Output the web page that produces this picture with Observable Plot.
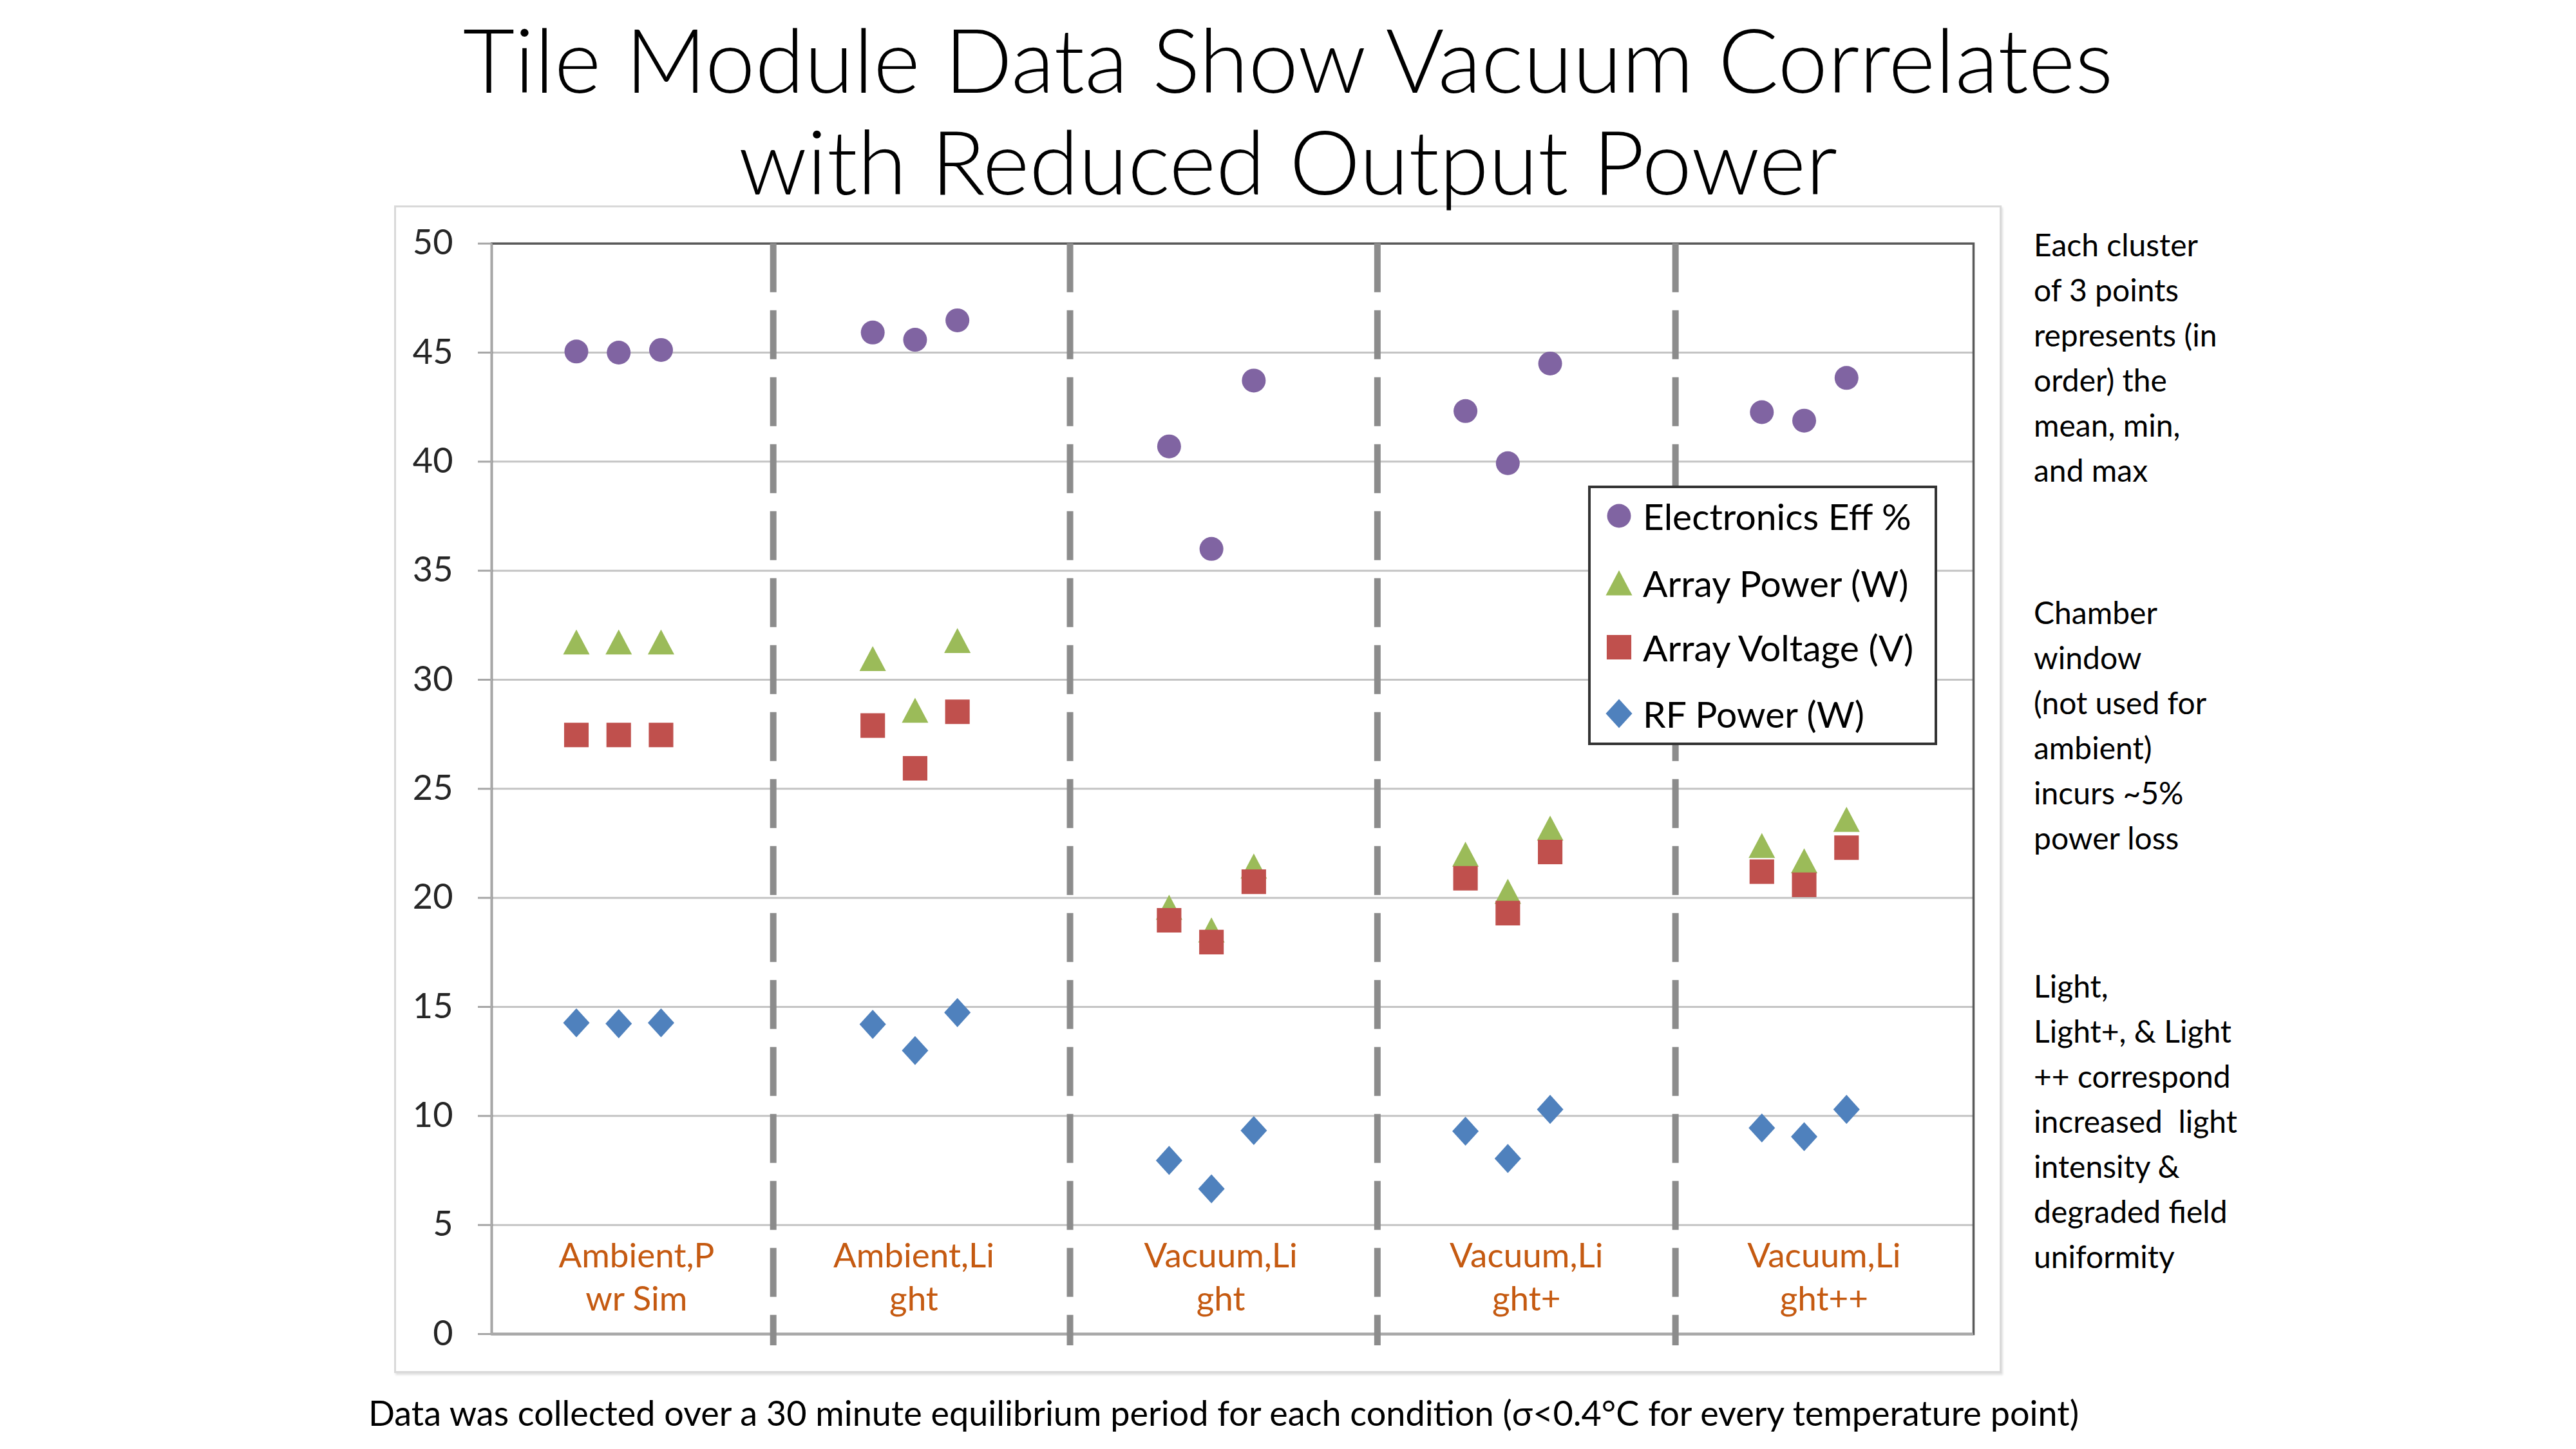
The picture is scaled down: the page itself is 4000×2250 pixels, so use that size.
<!DOCTYPE html>
<html>
<head>
<meta charset="utf-8">
<script src="https://cdn.jsdelivr.net/npm/d3@7"></script>
<script src="https://cdn.jsdelivr.net/npm/@observablehq/plot@0.6"></script>
<style>
  html, body { margin: 0; padding: 0; background: #fff; }
  #root { position: relative; width: 4000px; height: 2250px; overflow: hidden; font-family: Lato, "Open Sans", sans-serif; color: #000; }
  #title { position: absolute; left: 0; top: 12px; width: 4000px; text-align: center; font-weight: 300; font-size: 139px; line-height: 158px; }
  #frame { position: absolute; left: 612px; top: 319px; width: 2490px; height: 1807px; border: 3px solid #d9d9d9; box-shadow: 2px 3px 3px rgba(0,0,0,0.12); }
  #chart { position: absolute; left: 0; top: 0; }
  #legend { position: absolute; left: 2466px; top: 754px; width: 534px; height: 395px; border: 4px solid #333; background: #fff; }
  .row { position: absolute; left: 0; height: 102px; display: flex; align-items: center; font-size: 57px; white-space: nowrap; }
  .row svg { margin-left: 21px; margin-right: 14px; }
  .note { position: absolute; left: 3158px; font-size: 48px; line-height: 70px; white-space: pre; }
  #footer { position: absolute; left: 0; top: 2163px; width: 3800px; text-align: center; font-size: 54px; line-height: 62px; }
</style>
</head>
<body>
<div id="root">
  <div id="frame"></div>
  <div id="title"></div>
  <div id="chart"></div>
  <div id="legend"></div>
  <div id="footer"></div>
</div>
<script>
// ---------- data ----------
const conditionLabels = ["Ambient,P\nwr Sim", "Ambient,Li\nght", "Vacuum,Li\nght", "Vacuum,Li\nght+", "Vacuum,Li\nght++"];
const statOrder = ["mean", "min", "max"];
const seriesNames = ["Electronics Eff %", "Array Power (W)", "Array Voltage (V)", "RF Power (W)"];
const seriesColors = ["#8064A2", "#9BBB59", "#C0504D", "#4F81BD"];

// values per cluster, in order mean, min, max
const electronicsEff = [45.05, 45.0, 45.12, 45.92, 45.59, 46.48, 40.7, 36.0, 43.72, 42.32, 39.93, 44.5, 42.27, 41.88, 43.84];
const arrayPower     = [31.73, 31.73, 31.73, 30.97, 28.6, 31.8, 19.57, 18.53, 21.46, 22.0, 20.3, 23.2, 22.4, 21.7, 23.6];
const arrayVoltage   = [27.47, 27.47, 27.47, 27.9, 25.94, 28.53, 18.97, 17.97, 20.74, 20.9, 19.3, 22.1, 21.2, 20.6, 22.3];
const rfPower        = [14.27, 14.23, 14.27, 14.2, 13.0, 14.74, 7.96, 6.66, 9.33, 9.3, 8.05, 10.3, 9.45, 9.05, 10.3];

// dashed separators between conditions (x-axis units, 0..35)
const separatorX = [6.65, 13.66, 20.92, 27.96];
// condition label centres (x-axis units)
const labelX = [3.42, 9.97, 17.22, 24.44, 31.47];
const yTicks = [0, 5, 10, 15, 20, 25, 30, 35, 40, 45, 50];

const titleLines = ["Tile Module Data Show Vacuum Correlates", "with Reduced Output Power"];
const notes = [
  "Each cluster\nof 3 points\nrepresents (in\norder) the\nmean, min,\nand max",
  "Chamber\nwindow\n(not used for\nambient)\nincurs ~5%\npower loss",
  "Light,\nLight+, & Light\n++ correspond\nincreased  light\nintensity &\ndegraded field\nuniformity"
];
const footerText = "Data was collected over a 30 minute equilibrium period for each condition (\u03c3<0.4\u00b0C for every temperature point)";

// ---------- symbols ----------
function sym(fn) { return { draw(ctx, size) { const r = Math.sqrt(size / Math.PI); fn(ctx, r); } }; }
const symCircle = sym((c, r) => { c.moveTo(r, 0); c.arc(0, 0, r, 0, 2 * Math.PI); });
const symSquare = sym((c, r) => { const h = 1.03 * r; c.rect(-h, -h, 2 * h, 2 * h); });
const symTriangle = sym((c, r) => { const w = 1.11 * r, h = 1.05 * r; c.moveTo(0, -h); c.lineTo(w, h); c.lineTo(-w, h); c.closePath(); });
const symDiamond = sym((c, r) => { const w = 1.11 * r, h = 1.22 * r; c.moveTo(0, -h); c.lineTo(w, 0); c.lineTo(0, h); c.lineTo(-w, 0); c.closePath(); });
const seriesSymbols = [symCircle, symTriangle, symSquare, symDiamond];
const R = 18.5;

// ---------- build table ----------
const seriesValues = [electronicsEff, arrayPower, arrayVoltage, rfPower];
const rows = [];
seriesValues.forEach((vals, si) => {
  vals.forEach((v, i) => {
    const ci = Math.floor(i / 3), pi = i % 3;
    rows.push({ series: seriesNames[si], si, cond: conditionLabels[ci], stat: statOrder[pi], x: 2 + 7 * ci + pi, value: v });
  });
});
const labelRows = conditionLabels.map((t, i) => ({ text: t, x: labelX[i] }));

// ---------- chart ----------
const W = 4000, H = 2250;
const plot = Plot.plot({
  width: W, height: H,
  marginLeft: 763, marginRight: W - 3064, marginTop: 377.7, marginBottom: H - 2071,
  style: { background: "transparent", fontFamily: "Lato, 'Open Sans', sans-serif" },
  x: { domain: [0, 35], axis: null },
  y: { domain: [0, 50] },
  marks: [
    Plot.gridY(yTicks, { stroke: "#c4c4c4", strokeOpacity: 1, strokeWidth: 3 }),
    Plot.frame({ stroke: "#5a5a5a", strokeWidth: 3.5 }),
    Plot.ruleY([0], { stroke: "#a6a6a6", strokeWidth: 4 }),
    Plot.ruleX([0], { stroke: "#b3b3b3", strokeWidth: 2.5 }),
    Plot.axisY({ ticks: yTicks, tickSize: 21, tickPadding: 39, stroke: "#a6a6a6", strokeWidth: 3, fontSize: 54, fill: "#262626", label: null }),
    Plot.ruleX(separatorX, { x: d => d, stroke: "#8c8c8c", strokeWidth: 10, strokeDasharray: "76,28", insetBottom: -18 }),
    ...seriesNames.map((name, si) => Plot.dot(rows.filter(d => d.si === si), {
      x: "x", y: "value", r: R, symbol: seriesSymbols[si], fill: seriesColors[si], stroke: "none"
    })),
    Plot.text(labelRows, { x: "x", text: "text", frameAnchor: "bottom", dy: -37, fill: "#C55A11", fontSize: 53, lineHeight: 1.26 })
  ]
});
document.getElementById("chart").appendChild(plot);

// ---------- title / notes / footer ----------
document.getElementById("title").innerHTML = titleLines.join("<br>");
const noteTops = [345, 916, 1496];
notes.forEach((t, i) => {
  const d = document.createElement("div");
  d.className = "note";
  d.style.top = noteTops[i] + "px";
  d.textContent = t;
  document.getElementById("root").appendChild(d);
});
document.getElementById("footer").textContent = footerText;

// ---------- legend ----------
const legend = document.getElementById("legend");
const rowCenters = [47, 151, 251, 354];
seriesNames.forEach((name, si) => {
  const row = document.createElement("div");
  row.className = "row";
  row.style.top = (rowCenters[si] - 4 - 51) + "px";
  const svg = d3.create("svg").attr("width", 46).attr("height", 50);
  svg.append("path").attr("transform", "translate(23,25)")
    .attr("d", d3.symbol(seriesSymbols[si], R * R * Math.PI)())
    .attr("fill", seriesColors[si]);
  row.appendChild(svg.node());
  const span = document.createElement("span");
  span.textContent = name;
  row.appendChild(span);
  legend.appendChild(row);
});
</script>
</body>
</html>
